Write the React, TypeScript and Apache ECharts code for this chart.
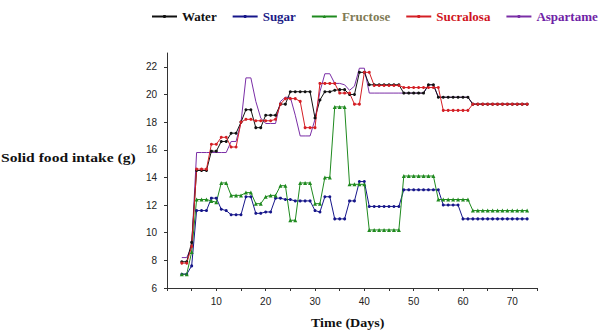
import React, { useEffect, useRef } from "react";
import * as echarts from "echarts";

const days = [3, 4, 5, 6, 7, 8, 9, 10, 11, 12, 13, 14, 15, 16, 17, 18, 19, 20, 21, 22, 23, 24, 25, 26, 27, 28, 29, 30, 31, 32, 33, 34, 35, 36, 37, 38, 39, 40, 41, 42, 43, 44, 45, 46, 47, 48, 49, 50, 51, 52, 53, 54, 55, 56, 57, 58, 59, 60, 61, 62, 63, 64, 65, 66, 67, 68, 69, 70, 71, 72, 73];

const water = [7.9, 7.9, 9.3, 14.5, 14.5, 14.5, 15.9, 15.9, 16.6, 16.6, 17.2, 17.2, 18.0, 18.9, 18.9, 17.6, 17.6, 18.5, 18.5, 18.5, 19.3, 19.3, 20.2, 20.2, 20.2, 20.2, 20.2, 18.3, 19.6, 20.2, 20.2, 20.3, 20.35, 20.35, 20.0, 20.0, 21.6, 21.6, 20.7, 20.7, 20.7, 20.7, 20.7, 20.7, 20.7, 20.1, 20.1, 20.1, 20.1, 20.1, 20.7, 20.7, 19.8, 19.8, 19.8, 19.8, 19.8, 19.8, 19.8, 19.3, 19.3, 19.3, 19.3, 19.3, 19.3, 19.3, 19.3, 19.3, 19.3, 19.3, 19.3];

const sugar = [7.0, 7.0, 7.6, 11.6, 11.6, 11.6, 12.5, 12.5, 11.7, 11.6, 11.3, 11.3, 11.3, 12.6, 12.6, 11.4, 11.4, 11.5, 11.5, 12.5, 12.5, 12.4, 12.4, 12.3, 12.3, 12.3, 12.3, 11.6, 11.5, 12.6, 12.6, 11.0, 11.0, 11.0, 12.3, 12.3, 13.7, 13.7, 11.9, 11.9, 11.9, 11.9, 11.9, 11.9, 11.9, 13.1, 13.1, 13.1, 13.1, 13.1, 13.1, 13.1, 13.1, 12.0, 12.0, 12.0, 12.0, 11.0, 11.0, 11.0, 11.0, 11.0, 11.0, 11.0, 11.0, 11.0, 11.0, 11.0, 11.0, 11.0, 11.0];

const fructose = [7.0, 7.0, 8.6, 12.4, 12.4, 12.4, 12.3, 12.2, 13.6, 13.6, 12.7, 12.7, 12.7, 12.9, 12.9, 12.1, 12.1, 12.6, 12.7, 12.7, 13.4, 13.4, 10.9, 10.9, 13.6, 13.6, 13.6, 12.1, 12.1, 14.0, 14.0, 19.1, 19.1, 19.1, 13.5, 13.5, 13.5, 13.5, 10.2, 10.2, 10.2, 10.2, 10.2, 10.2, 10.2, 14.1, 14.1, 14.1, 14.1, 14.1, 14.1, 14.1, 12.4, 12.4, 12.4, 12.4, 12.4, 12.4, 12.4, 11.6, 11.6, 11.6, 11.6, 11.6, 11.6, 11.6, 11.6, 11.6, 11.6, 11.6, 11.6];

const sucralosa = [7.8, 7.8, 9.0, 14.6, 14.6, 14.6, 16.4, 16.4, 16.9, 16.9, 16.2, 16.2, 18.0, 18.2, 18.2, 18.1, 18.1, 18.1, 18.1, 18.2, 19.3, 19.7, 19.7, 19.7, 19.5, 17.6, 17.6, 17.6, 20.8, 20.8, 20.8, 20.8, 20.1, 20.1, 20.1, 19.3, 19.3, 21.6, 21.6, 20.65, 20.65, 20.65, 20.65, 20.65, 20.65, 20.5, 20.5, 20.5, 20.5, 20.5, 20.5, 20.5, 20.5, 18.85, 18.85, 18.85, 18.85, 18.85, 18.85, 19.3, 19.3, 19.3, 19.3, 19.3, 19.3, 19.3, 19.3, 19.3, 19.3, 19.3, 19.3];

const aspartame = [8.2, 8.2, 9.0, 15.8, 15.8, 15.8, 15.8, 15.8, 15.8, 15.8, 16.6, 16.6, 18.0, 21.2, 21.2, 19.5, 18.3, 17.9, 17.9, 17.9, 19.5, 19.8, 19.8, 18.5, 17.0, 17.0, 17.0, 18.2, 20.2, 21.5, 21.5, 20.8, 20.8, 20.7, 20.3, 20.6, 21.9, 21.9, 20.1, 20.1, 20.1, 20.1, 20.1, 20.1, 20.1, 20.1, 20.1, 20.1, 20.1, 20.1, 20.7, 20.7, 19.8, 19.8, 19.8, 19.8, 19.8, 19.8, 19.8, 19.3, 19.3, 19.3, 19.3, 19.3, 19.3, 19.3, 19.3, 19.3, 19.3, 19.3, 19.3];

const seriesNames = ["Water", "Sugar", "Fructose", "Sucralosa", "Aspartame"];
const yTicks = [6, 8, 10, 12, 14, 16, 18, 20, 22];
const xLabels = [10, 20, 30, 40, 50, 60, 70];

const lineColors: Record<string, string> = {
  Water: "#111111",
  Sugar: "#16168a",
  Fructose: "#1f8a1f",
  Sucralosa: "#d41f25",
  Aspartame: "#7a2ea6",
};
const textColors: Record<string, string> = {
  Water: "#111111",
  Sugar: "#1c1c86",
  Fructose: "#7f7b55",
  Sucralosa: "#d0141e",
  Aspartame: "#6f22a6",
};

const pairs = (vals: number[]) => days.map((d, i) => [d, vals[i]]);

export default function App() {
  const ref = useRef<HTMLDivElement>(null);
  useEffect(() => {
    if (!ref.current) return;
    const chart = echarts.init(ref.current, null, { renderer: "svg" });
    const serif = "'Liberation Serif', 'Times New Roman', serif";
    const mk = (name: string, vals: number[], symbol: string, size: number) => ({
      name,
      type: "line",
      data: pairs(vals),
      symbol,
      symbolSize: size,
      showSymbol: symbol !== "none",
      lineStyle: { color: lineColors[name], width: 1 },
      itemStyle: { color: lineColors[name] },
      emphasis: { disabled: true },
    });
    chart.setOption({
      animation: false,
      backgroundColor: "#ffffff",
      grid: { left: 167, right: 61, top: 53, bottom: 45 },
      legend: {
        left: 151,
        top: 10,
        padding: 0,
        width: 600,
        itemGap: 15,
        itemWidth: 25,
        itemHeight: 4,
        textStyle: { fontFamily: serif, fontWeight: "bold", fontSize: 13 },
        data: seriesNames.map((n) => ({
          name: n,
          textStyle: { color: textColors[n], fontFamily: serif, fontWeight: "bold", fontSize: 13 },
        })),
      },
      xAxis: {
        type: "value",
        min: 0,
        max: 75,
        interval: 5,
        splitLine: { show: false },
        axisLine: { lineStyle: { color: "#333", width: 1 } },
        axisTick: { inside: false, length: 3, lineStyle: { color: "#333" } },
        axisLabel: {
          fontFamily: "'Liberation Sans', Arial, sans-serif",
          fontSize: 10,
          color: "#222",
          margin: 8,
          formatter: (v: number) => (xLabels.includes(v) ? String(v) : ""),
        },
      },
      yAxis: {
        type: "value",
        min: 6,
        max: 23,
        interval: 1,
        splitLine: { show: false },
        axisLine: { show: true, lineStyle: { color: "#333", width: 1 } },
        axisTick: { show: true, length: 3, lineStyle: { color: "#333" }, customValues: yTicks },
        axisLabel: {
          fontFamily: "'Liberation Sans', Arial, sans-serif",
          fontSize: 10,
          color: "#222",
          margin: 10,
          customValues: yTicks,
        },
      },
      graphic: [
        {
          type: "text",
          left: 1,
          top: 151,
          scaleX: 1.2,
          style: {
            text: "Solid food intake (g)",
            font: "bold 13px 'Liberation Serif', serif",
            fill: "#111",
          },
        },
        {
          type: "text",
          left: 311,
          top: 316,
          scaleX: 1.08,
          style: {
            text: "Time (Days)",
            font: "bold 13px 'Liberation Serif', serif",
            fill: "#111",
          },
        },
      ],
      series: [
        mk("Sugar", sugar, "circle", 3),
        mk("Fructose", fructose, "triangle", 4),
        mk("Aspartame", aspartame, "none", 3),
        mk("Water", water, "circle", 3),
        mk("Sucralosa", sucralosa, "circle", 3),
      ],
    });
    return () => chart.dispose();
  }, []);
  return (
    <div
      ref={ref}
      style={{ position: "fixed", left: 0, top: 0, width: 598, height: 333, background: "#fff" }}
    />
  );
}
